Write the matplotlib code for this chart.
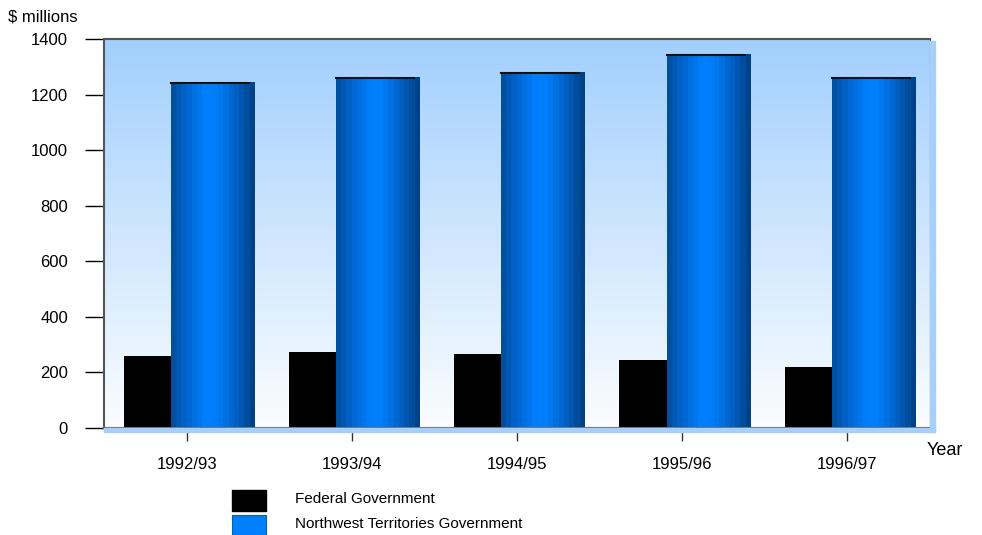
import numpy as np
import matplotlib.pyplot as plt
from matplotlib.colors import LinearSegmentedColormap
from matplotlib.patches import Rectangle

plt.rcParams['font.family'] = ['Liberation Sans', 'DejaVu Sans']

# data
years = ['1992/93', '1993/94', '1994/95', '1995/96', '1996/97']
federal = [259, 273, 266, 245, 219]
nwt = [1245, 1263, 1281, 1346, 1263]
yticks = [0, 200, 400, 600, 800, 1000, 1200, 1400]

fig = plt.figure(figsize=(9.82, 5.35), dpi=100)
ax = fig.add_axes([0.1059, 0.2, 0.841, 0.727])

x = np.arange(len(years))
ax.set_xlim(-0.5, 4.5)
ax.set_ylim(0, 1400)

# background gradient (light blue at top to near white at bottom)
bg = LinearSegmentedColormap.from_list('bg', ['#fbfdff', '#a2cffd'])
ax.imshow(np.linspace(0, 1, 256).reshape(-1, 1), cmap=bg, aspect='auto',
          extent=(-0.5, 4.5, 0, 1400), origin='lower', zorder=0)

# shadow strips right and below the plot area
fig.patches.append(Rectangle((0.947, 0.193), 0.005, 0.73, transform=fig.transFigure,
                             color='#a6d0fb', zorder=0))
fig.patches.append(Rectangle((0.1059, 0.193), 0.846, 0.007, transform=fig.transFigure,
                             color='#a6d0fb', zorder=0))

fed_w = 0.285
nwt_w = 0.508
fed_x = x - 0.379 + fed_w / 2
nwt_x = x - 0.094 + nwt_w / 2

ax.bar(fed_x, federal, width=fed_w, color='black', zorder=2, label='Federal Government')

# cylinder shading for the blue bars
cyl = LinearSegmentedColormap.from_list('cyl', ['#0050a0', '#0062c8', '#0072e6', '#0080ff',
                                               '#007cf6', '#006ad6', '#0058b4', '#00428a'], N=16)
bars = ax.bar(nwt_x, nwt, width=nwt_w, color='#0080ff', zorder=2,
              label='Northwest Territories Government')
for b, v in zip(bars, nwt):
    b.set_facecolor('none')
    im = ax.imshow(np.linspace(0, 1, 16).reshape(1, -1), cmap=cyl, aspect='auto',
                   extent=(b.get_x(), b.get_x() + b.get_width(), 0, v), zorder=2)
    im.set_clip_path(b)
    ax.plot([b.get_x(), b.get_x() + b.get_width() * 0.93], [v - 4, v - 4],
            color='#111111', lw=1.5, zorder=3)

ax.set_yticks(yticks)
ax.set_yticklabels([str(t) for t in yticks])
ax.set_xticks(x)
ax.set_xticklabels(years)
ax.tick_params(axis='y', length=14, width=1, color='black', labelsize=12, pad=12)
ax.tick_params(axis='x', length=9, width=1, color='#333333', labelsize=12, pad=12)

for s in ['top', 'left']:
    ax.spines[s].set_color('#555555')
    ax.spines[s].set_linewidth(1.5)
ax.spines['right'].set_color('#444444')
ax.spines['bottom'].set_color('#666666')
ax.spines['bottom'].set_linewidth(1.5)

fig.text(0.008, 0.955, '$ millions', fontsize=12, va='bottom')
fig.text(0.944, 0.158, 'Year', fontsize=13, ha='left', va='center')

# legend
fig.patches.append(Rectangle((0.236, 0.045), 0.035, 0.04, transform=fig.transFigure,
                             color='black'))
fig.patches.append(Rectangle((0.236, 0.0), 0.035, 0.038, transform=fig.transFigure,
                             color='#0080ff', ec='#1060a0', lw=0.8))
fig.text(0.3, 0.067, 'Federal Government', fontsize=11, va='center')
fig.text(0.3, 0.02, 'Northwest Territories Government', fontsize=11, va='center')

fig.savefig('out.png', dpi=100)
